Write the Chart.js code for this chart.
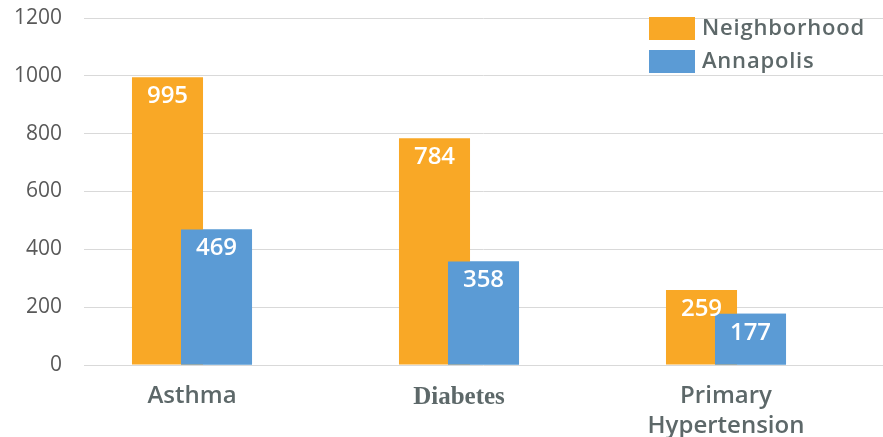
<!DOCTYPE html>
<html>
<head>
<meta charset="utf-8">
<script src="https://cdn.jsdelivr.net/npm/chart.js@4"></script>
<style>
  html, body { margin: 0; padding: 0; background: #fff; }
  #wrap { width: 883px; height: 437px; position: relative; }
</style>
</head>
<body>
<div id="wrap"><canvas id="chart"></canvas></div>
<script>
const categories = ['Asthma', 'Diabetes', ['Primary', 'Hypertension']];
const neighborhood = [995, 784, 259];
const annapolis = [469, 358, 177];
const yTicks = [0, 200, 400, 600, 800, 1000, 1200];

const ORANGE = '#f9a826';
const BLUE = '#5b9bd5';
const TEXT = '#5d6869';

// the right bar of each pair overlaps the left one, so paint it again on top,
// then put the white value labels just under the top of each bar
const valueLabels = {
    id: 'valueLabels',
    afterDatasetsDraw(chart) {
        chart.getDatasetMeta(1).controller.draw();
        const ctx = chart.ctx;
        ctx.save();
        ctx.font = '600 24px "Open Sans"';
        ctx.fillStyle = '#ffffff';
        ctx.textAlign = 'center';
        ctx.textBaseline = 'middle';
        chart.data.datasets.forEach((ds, di) => {
            chart.getDatasetMeta(di).data.forEach((bar, i) => {
                ctx.fillText(String(ds.data[i].y), bar.x, bar.y + 19);
            });
        });
        ctx.restore();
    }
};

// stacked legend in the top right corner of the plot
const cornerLegend = {
    id: 'cornerLegend',
    afterDraw(chart) {
        const ctx = chart.ctx;
        const area = chart.chartArea;
        const x = area.right - 234;
        let y = area.top - 1;
        ctx.save();
        ctx.font = '600 22px "Open Sans"';
        ctx.letterSpacing = '0.8px';
        ctx.textBaseline = 'middle';
        ctx.textAlign = 'left';
        chart.data.datasets.forEach(ds => {
            ctx.fillStyle = ds.backgroundColor;
            ctx.fillRect(x, y, 46, 23);
            ctx.fillStyle = TEXT;
            ctx.fillText(ds.label, x + 53, y + 12);
            y += 33;
        });
        ctx.restore();
    }
};

new Chart(document.getElementById('chart'), {
    type: 'bar',
    data: {
        datasets: [{
            label: 'Neighborhood',
            data: neighborhood.map((v, i) => ({x: i, y: v})),
            backgroundColor: ORANGE,
            categoryPercentage: 0.367,
            barPercentage: 1.45
        }, {
            label: 'Annapolis',
            data: annapolis.map((v, i) => ({x: i, y: v})),
            backgroundColor: BLUE,
            categoryPercentage: 0.367,
            barPercentage: 1.45
        }]
    },
    options: {
        responsive: true,
        maintainAspectRatio: false,
        animation: false,
        layout: { padding: { top: 18, left: 0, right: 0, bottom: 0 } },
        plugins: {
            legend: { display: false },
            tooltip: { enabled: false }
        },
        scales: {
            x: {
                type: 'linear',
                offset: false,
                min: -0.4045,
                max: 2.588,
                grid: { display: false },
                border: { display: false },
                afterBuildTicks: s => { s.ticks = categories.map((_, i) => ({value: i})); },
                afterFit: s => { s.height = 72; },
                ticks: {
                    padding: 8,
                    color: TEXT,
                    callback: v => categories[v],
                    font: ctx => (ctx.tick && ctx.tick.value === 1)
                        ? { family: '"Liberation Serif"', size: 25, weight: 'bold', lineHeight: 1.3 }
                        : { family: '"Open Sans"', size: 24, weight: '600', lineHeight: 1.25 }
                }
            },
            y: {
                min: 0,
                max: 1200,
                afterBuildTicks: s => { s.ticks = yTicks.map(v => ({value: v})); },
                afterFit: s => {
                    s.width = 84;
                    s.paddingTop = 0;
                    s.paddingBottom = 0;
                },
                grid: { color: '#d9d9d9', lineWidth: 1, drawTicks: false },
                border: { display: false },
                ticks: {
                    padding: 22,
                    color: '#595959',
                    callback: v => String(v),
                    font: { family: '"Open Sans"', size: 21 }
                }
            }
        }
    },
    plugins: [valueLabels, cornerLegend]
});
</script>
</body>
</html>
